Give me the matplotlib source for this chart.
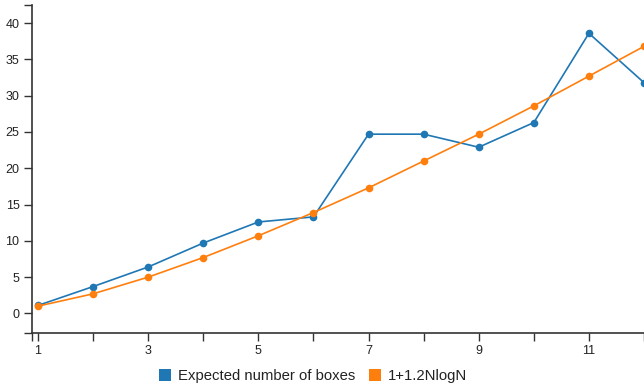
import matplotlib
matplotlib.use("Agg")
import matplotlib.pyplot as plt
from matplotlib.patches import Patch

plt.rcParams['font.family'] = ['Liberation Sans', 'DejaVu Sans']

n_values = [1, 2, 3, 4, 5, 6, 7, 8, 9, 10, 11, 12]
expected_boxes = [1.1, 3.7, 6.4, 9.7, 12.6, 13.3, 24.7, 24.7, 22.9, 26.3, 38.6, 31.8]
nlogn_bound = [1.0, 2.7, 5.0, 7.7, 10.7, 13.9, 17.3, 21.0, 24.7, 28.6, 32.7, 36.8]
x_tick_labels = ["1", "", "3", "", "5", "", "7", "", "9", "", "11", ""]
y_ticks = [0, 5, 10, 15, 20, 25, 30, 35, 40]

blue = "#1f77b4"
orange = "#ff7f0e"
axis_color = "#333333"

W, H = 644, 388
fig = plt.figure(figsize=(W / 100, H / 100), dpi=100)
ax = fig.add_axes([32 / W, (H - 333) / H, (644 - 32) / W, (333 - 5) / H])

ax.plot(n_values, expected_boxes, color=blue, lw=1.2, marker="o", ms=5.5,
        markeredgewidth=0, clip_on=False, zorder=3)
ax.plot(n_values, nlogn_bound, color=orange, lw=1.2, marker="o", ms=5.5,
        markeredgewidth=0, clip_on=False, zorder=3)

ax.set_xlim(1 - 6 / 55, 12)
ax.set_ylim(-2.7, 42.5)

ax.set_xticks(n_values)
ax.set_xticklabels(x_tick_labels)
ax.set_yticks(y_ticks)

# outer ticks at the ends of each axis line
ax.set_xticks([1 - 6 / 55], minor=True)
ax.set_yticks([-2.7, 42.5], minor=True)

for side in ("top", "right"):
    ax.spines[side].set_visible(False)
for side in ("left", "bottom"):
    ax.spines[side].set_color(axis_color)
    ax.spines[side].set_linewidth(1.2)

ax.tick_params(which="both", direction="out", length=6, width=1, color=axis_color,
               labelsize=9, labelcolor="#222222", pad=3)
ax.tick_params(which="minor", labelleft=False, labelbottom=False)

handles = [Patch(facecolor=blue, edgecolor="none", label="Expected number of boxes"),
           Patch(facecolor=orange, edgecolor="none", label="1+1.2NlogN")]
fig.legend(handles=handles, loc="center", bbox_to_anchor=(0.486, (H - 376) / H),
           ncol=2, frameon=False, fontsize=10.7, handlelength=0.85, handleheight=0.85,
           handletextpad=0.45, columnspacing=0.9, labelcolor="#222222")

fig.savefig("out.png", dpi=100)
